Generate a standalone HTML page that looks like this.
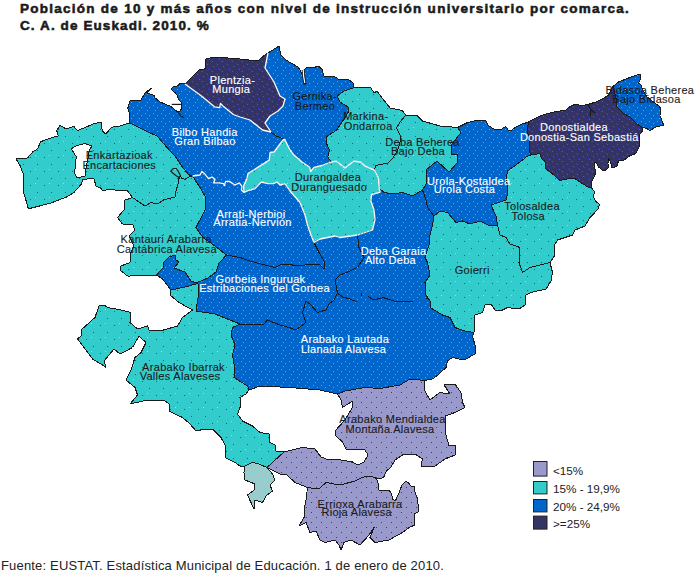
<!DOCTYPE html>
<html><head><meta charset="utf-8"><title>Mapa</title>
<style>
html,body{margin:0;padding:0;background:#fff;}
body{width:700px;height:582px;position:relative;overflow:hidden;font-family:"Liberation Sans",sans-serif;}
.t{position:absolute;left:20px;white-space:nowrap;font-weight:bold;font-size:13.5px;color:#1a1a1a;letter-spacing:1.26px;-webkit-text-stroke:0.55px #1a1a1a;line-height:14px;}
.f{position:absolute;left:1px;top:559px;white-space:nowrap;font-size:13px;color:#222;letter-spacing:0.17px;line-height:14px;}
</style></head><body>
<div class="t" style="top:1.9px">Población de 10 y más años con nivel de instrucción universitario por comarca.</div>
<div class="t" style="top:19.2px;letter-spacing:1.1px">C. A. de Euskadi. 2010. %</div>
<svg width="700" height="582" viewBox="0 0 700 582" style="position:absolute;left:0;top:0">
<defs>
<pattern id="pBL" width="8" height="8" patternUnits="userSpaceOnUse"><rect width="8" height="8" fill="#0066CC"/><rect x="1" y="1" width="1" height="1" fill="#2BBFD6"/><rect x="5" y="3" width="1" height="1" fill="#2BBFD6"/><rect x="3" y="6" width="1" height="1" fill="#2BBFD6"/></pattern>
<pattern id="pCY" width="14" height="14" patternUnits="userSpaceOnUse"><rect width="14" height="14" fill="#33CCCC"/><rect x="2" y="3" width="1" height="1" fill="#5A4A4A"/><rect x="9" y="10" width="1" height="1" fill="#5A4A4A"/><rect x="7" y="1" width="1" height="1" fill="#CCCCCC"/></pattern>
<pattern id="pNV" width="10" height="10" patternUnits="userSpaceOnUse"><rect width="10" height="10" fill="#333366"/><rect x="1" y="1" width="1" height="1" fill="#3333CC"/><rect x="2" y="1" width="1" height="1" fill="#666633"/><rect x="6" y="3" width="1" height="1" fill="#3333CC"/><rect x="7" y="4" width="1" height="1" fill="#666633"/><rect x="3" y="6" width="1" height="1" fill="#666633"/><rect x="4" y="7" width="1" height="1" fill="#3333CC"/><rect x="8" y="8" width="1" height="1" fill="#3333CC"/><rect x="9" y="9" width="1" height="1" fill="#666633"/></pattern>
<pattern id="pLV" width="10" height="10" patternUnits="userSpaceOnUse"><rect width="10" height="10" fill="#9999CC"/><rect x="1" y="2" width="1" height="1" fill="#333399"/><rect x="6" y="7" width="1" height="1" fill="#333399"/></pattern>
</defs>
<g stroke="#1a1a1a" stroke-width="1" stroke-linejoin="round" shape-rendering="crispEdges">
<path d="M16,159 27.5,158 32.6,152 37.8,148.7 40.4,141.8 49.8,138.4 58.4,135.8 56.7,130.6 60.1,125.5 66.2,128.9 73.9,126.3 77.3,130.6 85.9,127.2 93.6,123.7 101.4,122 102.2,130.6 105.7,134 111.7,127.2 120,126 129.5,123 138.9,127.4 147.5,131.7 157,136 163,142.9 169.8,150.6 175,155.8 179.3,162.6 183.6,168.6 188.7,174.7 192.5,176 187.8,177.5 185.3,179.2 181.8,178.8 180.5,175.8 179.2,177.5 178,184.4 175.8,191.3 175.8,196.9 163.8,199.9 157.5,204 151,202.5 145,206 132.5,197.5 127.5,191 115,190 110,189 103,190.8 100,187.5 96.2,186.5 94,179 89.3,178.7 82.5,179.6 81.6,183.9 73.9,192.5 67,196.8 51.5,202.8 39.5,206 28.4,208.8 23.2,190.8 23.2,173.6 19.8,165Z M71.3,148.7 75.6,146 85,143.5 91.9,146 89.3,150.4 88,158 85.9,168.4 85,176 77.3,177.9 74.7,173.6 75.6,161.5 76.5,157 73.9,153Z" fill="url(#pCY)" fill-rule="evenodd"/>
<polygon points="129.5,123 129.5,112.8 127.7,108.5 130.3,100 140.6,100.8 145,93 151.8,87.9 146.6,93 154.4,95.6 155,97.8 159.6,101.7 166.6,104.8 170.5,106.3 173.6,108.7 177.5,111.8 179.8,111 181.7,108.7 181.4,104.4 181,101.7 178.3,99.4 177.5,95.5 174.8,92.4 171.7,90 171.7,88 174,86.6 177.9,85.8 180.2,83.5 183.7,83.5 185,84 200.8,95.6 214.5,106.8 219.7,107.6 220.5,103.4 223,106 233.4,114.5 240,117 250,120 262.5,130 271,132 276,136 280,137.5 284,139 280,144 274,152 270,152.5 269.3,160 265,162.9 259.3,166.4 253.6,170 247.9,173.6 247,178.6 243.6,185.7 244,192.5 241.4,190 242,186.4 239.3,182.9 235,185 229.3,181.4 225.7,181.4 224.3,185.7 223.6,183.6 218.6,182.9 213.6,182.9 215,179.3 212,177 208.6,178.6 205,174.3 202,171.4 200,175 192.5,176 188.7,174.7 183.6,168.6 179.3,162.6 175,155.8 169.8,150.6 163,142.9 157,136 147.5,131.7 138.9,127.4" fill="url(#pBL)"/>
<polygon points="185,84 198.75,70 205,68.75 206,58.75 216,57 237.5,58.75 257.5,61 266,54 268,53 265,68 274,82 280,96 285,99 283,106 278,111 270,116 265,123 271,132 262.5,130 250,120 240,117 233.4,114.5 223,106 220.5,103.4 219.7,107.6 214.5,106.8 200.8,95.6" fill="url(#pNV)"/>
<polygon points="268,53 279,46 281,55 286,60 291,63 298,67 303,75 303,70 308,67 313,68 318,66 322,69 324,76 335,77 340,80 348,79 353,83 353,88 344,91 337,96 340,102 348,107 349,111 344,119 340,125 336.4,130.3 327,136.3 326,142.3 329.5,150 327.8,157 331.2,162 321.8,165.5 314,167.3 310.6,171.5 309.8,167.3 302,162 293.4,154.4 290,150 285,140 284,139 280,137.5 276,136 271,132 265,123 270,116 278,111 283,106 285,99 280,96 274,82 265,68" fill="url(#pBL)"/>
<polygon points="353,88 362,87 371,88 374,93 377,91 382,98 387,104 390,108 400,110 402.5,111 406,115 400,122 396.5,128 400,134.6 400,142.3 397.4,151 393,157.8 388,163 376,165.5 374.2,169.8 365.6,166.4 360.4,162 353.6,161.2 345,168 336.4,161.2 331.2,162 327.8,157 329.5,150 326,142.3 327,136.3 336.4,130.3 340,125 344,119 349,111 348,107 340,102 337,96 344,91" fill="url(#pCY)"/>
<polygon points="406,115 417.5,116 422.5,121 440,126 457.5,127.5 461,132.5 451,145 451,154 457.5,155 457.5,162.5 449,172 437,161 426,170 426,184 422.5,190 412.5,196 402.5,192.5 392.5,194 384,192.5 379,188 378.5,178.4 374.2,169.8 376,165.5 388,163 393,157.8 397.4,151 400,142.3 400,134.6 396.5,128 400,122" fill="url(#pCY)"/>
<polygon points="457.5,127.5 467.5,122.5 479,120 485.7,120.7 488.6,125.7 494.3,129.3 501.4,129.3 505.7,126.4 508.6,130.7 512,130 515.7,127 521.4,124.3 528.6,122 527,130 529.3,140 530,152.9 530.7,155 527,156.4 520,162 513,167 507.9,170.7 506.4,175.7 507,183 507.5,194 506,200 491,205 496,216 497.5,225 490,226 480,221 470,224 462.5,221 456,222.5 447.5,212.5 440,211 434,216 427.5,207.5 426,200 422.5,190 426,184 426,170 437,161 449,172 457.5,162.5 457.5,155 451,154 451,145 461,132.5" fill="url(#pBL)"/>
<polygon points="528.6,122 535.7,118 544.3,114.3 554.3,112 565.7,110 571.4,105.7 575.7,104.3 581.4,105.7 588.6,104.3 595.7,102 603,98.6 608.6,95 613,86.4 615.7,97 617,107 623,113 630,117 635.7,123 641.4,127 643,130 639,135.7 639,147 635.7,153.6 630,155.7 624,160 618.6,160.7 617,165.7 614,167.9 612,168 610,160.7 608.6,159 607.9,164 609,167 605.7,170 602,170 598.6,167 595.7,162 594,163 595.7,172.9 592,181.4 591.4,187.9 587.9,187 581.4,182.9 575,178.6 568.6,178.6 560,180.5 551.4,172.9 545.7,168.6 545,161.4 541.4,158.6 540,153.6 530.7,155 530,152.9 529.3,140 527,130" fill="url(#pNV)"/>
<polygon points="613,86.4 618.6,82 627,78.6 638.6,74.3 640.7,75 640,80 638.6,83 641,85 643,90.7 647,97 658.6,105.7 660.7,108.6 660,115.7 663.6,125 655.7,127 650,130.7 647,128.6 641.4,127 635.7,123 630,117 623,113 617,107 615.7,97" fill="url(#pBL)"/>
<polygon points="530.7,155 540,153.6 541.4,158.6 545,161.4 545.7,168.6 551.4,172.9 560,180.5 568.6,178.6 575,178.6 581.4,182.9 587.9,187 591.4,187.9 594.3,191.4 593.6,197 595.7,201.4 599.3,204.3 598.6,208.6 594.3,213 590,217.5 585,226 575,230 572.5,235 557.5,240 554,246 555,255 550,262.5 540,265 530,267.5 522.5,272.5 519,262.5 520,247.5 510,244 506,237.5 500,235 497.5,225 496,216 491,205 506,200 507.5,194 507,183 506.4,175.7 507.9,170.7 513,167 520,162 527,156.4" fill="url(#pCY)"/>
<polygon points="434,216 440,211 447.5,212.5 456,222.5 462.5,221 470,224 480,221 490,226 497.5,225 500,235 506,237.5 510,244 520,247.5 519,262.5 522.5,272.5 530,267.5 540,265 550,262.5 552.5,272.5 551,281 546,289 531,292.5 526,295 525,305 519,309 507.5,307.5 502.5,310 495,310 491,304 485,305 482.5,312.5 475,315 474,332.5 465,331 455,327.5 450,317.5 442.5,315 430,307.5 430,301 428,298 426,295 425,282.5 430,275 427.5,262.5 425,257.5 429,245 430,235 432.5,225" fill="url(#pCY)"/>
<polygon points="284,139 285,140 290,150 293.4,154.4 302,162 309.8,167.3 310.6,171.5 314,167.3 321.8,165.5 331.2,162 336.4,161.2 345,168 353.6,161.2 360.4,162 365.6,166.4 374.2,169.8 378.5,178.4 379,188 380.2,192.2 371.6,194.7 370.8,200.8 374,210 375,219.7 372.5,230 357.5,235 340,237.5 335,236 320,239 314,242.5 311,235 307.5,225 305,215 300,202.5 290,191 285,183.6 280,185 277,182 273.6,183.6 267.9,183.6 261.4,182 255,188.6 247.9,190.7 244,192.5 243.6,185.7 247,178.6 247.9,173.6 253.6,170 259.3,166.4 265,162.9 269.3,160 270,152.5 274,152 280,144" fill="url(#pCY)"/>
<polygon points="379,188 384,192.5 392.5,194 402.5,192.5 412.5,196 422.5,190 426,200 427.5,207.5 434,216 432.5,225 430,235 429,245 425,257.5 427.5,262.5 430,275 425,282.5 426,295 428,298 412.5,301 407.5,300 397.5,301 390,300 380,296 370,300 360,294 342.5,297.5 337.5,293 335,280 340,275 350,271 357.5,267.5 364,257.5 359,247.5 357.5,235 372.5,230 375,219.7 374,210 370.8,200.8 371.6,194.7 380.2,192.2" fill="url(#pBL)"/>
<polygon points="192.5,176 200,175 202,171.4 205,174.3 208.6,178.6 212,177 215,179.3 213.6,182.9 218.6,182.9 223.6,183.6 224.3,185.7 225.7,181.4 229.3,181.4 235,185 239.3,182.9 242,186.4 241.4,190 244,192.5 247.9,190.7 255,188.6 261.4,182 267.9,183.6 273.6,183.6 277,182 280,185 285,183.6 290,191 300,202.5 305,215 307.5,225 311,235 314,242.5 319,252.5 324,261 324,269 319,264 310,264 305,265 297.5,266 287.5,264 282.5,264 275,267.5 261,264 250,261 240,257.5 226.5,255 215,246 202.5,237 196,227.5 205,210 206,198 200,187.5" fill="url(#pBL)"/>
<polygon points="192.5,176 187.8,177.5 185.3,179.2 181.8,178.8 180.5,175.8 179.2,177.5 178,184.4 175.8,191.3 175.8,196.9 163.8,199.9 157.5,204 151,202.5 145,206 132.5,197.5 125,200 124,210 117.5,217.5 122.5,224 132.5,224 135,230 129,236 134,246 131,252.5 130,262.5 121,266 120,270 127.5,276 130,276 156.5,275 163,268 164,262 169,257 175,255 176,260 179,262 174,268 185,272 191,281 196,283 208,278 216,272 219,263 226.5,255 215,246 202.5,237 196,227.5 205,210 206,198 200,187.5" fill="url(#pCY)"/>
<polygon points="226.5,255 240,257.5 250,261 261,264 275,267.5 282.5,264 287.5,264 297.5,266 305,265 310,264 319,264 324,269 324,261 319,252.5 314,242.5 320,239 335,236 340,237.5 357.5,235 359,247.5 364,257.5 357.5,267.5 350,271 340,275 335,280 337.5,293 334,300 329,304 326,310 317.5,312.5 311,305 306,301 302.5,312.5 306,322.5 296,330 289,327.5 280,325 267.5,320 264,324 250,325 240,324 230,320 215,314 196,311 198,298 198,283.5 185,287 171,290 162.5,279 156.5,275 163,268 164,262 169,257 175,255 176,260 179,262 174,268 185,272 191,281 196,283 208,278 216,272 219,263" fill="url(#pBL)"/>
<polygon points="240,324 250,325 264,324 267.5,320 280,325 289,327.5 296,330 306,322.5 302.5,312.5 306,301 311,305 317.5,312.5 326,310 329,304 334,300 337.5,293 342.5,297.5 360,294 370,300 380,296 390,300 397.5,301 407.5,300 412.5,301 428,298 430,301 430,307.5 442.5,315 450,317.5 455,327.5 465,331 474,332.5 472.5,336 475,345 475,354 464,360 452.5,357.5 447.5,361 446,367.5 439,374 432.5,379 424.5,380.5 410,379 400,385 380,388.5 365,387.5 345,391 337.5,394 320,390 290,387.5 260,386 249,390 247.5,386 234,377.5 235,370 232.5,355 235,345 231,335 232.5,327.5" fill="url(#pBL)"/>
<polygon points="171,290 185,287 198,283.5 198,298 196,311 215,314 230,320 240,324 232.5,327.5 231,335 235,345 232.5,355 235,370 234,377.5 247.5,386 249,390 246,394 240,397.5 241,405 237.5,414 242.5,421 252.5,426 260,432.5 269,434 270,442.5 275,445 276,451 284,452 267,467.5 259,464 252.5,462.5 245,466 240,466 235,462.5 225,457.5 225,445 221,437.5 212.5,429 205,429 196,431 190,424 182.5,417.5 169,411 169,404 164,400 147.5,400 130,404 137.5,395 135,387.5 126,380 131,370 135,357.5 141,352.5 146,342.5 139,336 132.5,347.5 120,354 114,349 104,361 106,367.5 101,364 92.5,359 86,350 77.5,339 81,336 81,330 95,317.5 99,306 104,305 107.5,307.5 121,310 131,312.5 130,322.5 137.5,329 147.5,326 149,330 160,331 177.5,326 182.5,317.5 192.5,310 179,302.5 170,295" fill="url(#pCY)"/>
<polygon points="424.5,380.5 425,391 430,400 440,392.5 450,394 444,385 455,384 461,392.5 462.5,402.5 465,407.5 455,412.5 445,416 446,435 449,446 455,445 455,455 445,459 435,466 421,466 422.5,459 415,454 402.5,455 395,460 391,467 386.5,471 384,476.5 381.5,478.5 376.5,478.5 371,476 365,476.5 360,478.5 355,481 340,485 326,482.5 319,489 307.5,487.5 295,482.5 286,474 280,474 267,467.5 284,452 296,449 302.5,447.5 315,449 321,457 329,460 335,459 352.5,462 357.5,465 364,462 368,455 365,450 346,449 342.5,442 336,436 335,431 345,420 352.5,407.5 352.5,401 342.5,407.5 341,400 337.5,394 345,391 365,387.5 380,388.5 400,385 410,379" fill="url(#pLV)"/>
<polygon points="307.5,487.5 319,489 326,482.5 340,485 355,481 360,478.5 365,476.5 371,476 376.5,478.5 378,483 379,490 389,490 391,493 393,499.5 395.5,500.5 398.5,494 402,485 406,481 409,483.5 411,486 414.5,486.5 414.5,491 417,497 418.5,507 418,512 414.5,514 414,518 415,525 409,527.5 402.5,532.5 389,540 375,542.5 370,537.5 374,527.5 369,535 360,545 351,540 344,542.5 341,550 339,545 335,540 325,542.5 320,540 316,531 310,532.5 306,522.5 299,526 304,517.5 304,510 306,500" fill="url(#pLV)"/>
<polygon points="245,466 252.5,462.5 259,464 267,467.5 272.5,474 275,480 270,485 272.5,491 266,496 262.5,502.5 255,500 254,509 247.5,495 254,490 255,484 245,480 244,472.5" fill="#99CCCC"/>
</g>
<polyline points="342.5,297.5 360,294 370,300 380,296 390,300 397.5,301 407.5,300 412.5,301 426,298.5" fill="none" stroke="#0066CC" stroke-width="2.2"/>
<g fill="none" stroke="#1a1a33" stroke-width="1" shape-rendering="crispEdges">
<polyline points="337.5,293 343,297 350,299 357,302"/>
<polyline points="361,292.5 361,296"/>
<polyline points="368,296 373,300 383.5,297.7 393.7,301 405.8,301 412.6,301"/>
</g>
<g fill="none" stroke="#1a1a1a" stroke-width="1.2">
<polyline points="171.7,104.4 181.4,104.4"/>
<polyline points="177.5,111.8 180.6,115.7 183.7,117.6"/>
<polyline points="180.5,175.8 178.4,171.5 176.2,168.5 173.2,168.5 171,171 172.4,172.8 175.8,175.4 179.2,177.5"/>
<polyline points="588,105 591,110 595,113"/>
<polyline points="591,110 590,116"/>
</g>
<polyline points="303.2,70 303.6,76 305,84.5" fill="none" stroke="#1a1a1a" stroke-width="3" stroke-linecap="butt"/>
<polyline points="303.2,69 303.6,76 304.8,83" fill="none" stroke="#ffffff" stroke-width="1.2"/>
<g fill="none" stroke="#ffffff" stroke-width="1.3" stroke-linejoin="round">
<polyline points="185,84 200.8,95.6 214.5,106.8 219.7,107.6 220.5,103.4 223,106 233.4,114.5 240,117 250,120 262.5,130 271,132"/>
<polyline points="268,53 265,68 274,82 280,96 285,99 283,106 278,111 270,116 265,123 271,132"/>
<polyline points="284,139 280,144 274,152 270,152.5 269.3,160 265,162.9 259.3,166.4 253.6,170 247.9,173.6 247,178.6 243.6,185.7 244,192.5"/>
<polyline points="244,192.5 241.4,190 242,186.4 239.3,182.9 235,185 229.3,181.4 225.7,181.4 224.3,185.7 223.6,183.6 218.6,182.9 213.6,182.9 215,179.3 212,177 208.6,178.6 205,174.3 202,171.4 200,175 192.5,176"/>
<polyline points="331.2,162 321.8,165.5 314,167.3 310.6,171.5 309.8,167.3 302,162 293.4,154.4 290,150 285,140 284,139"/>
<polyline points="374.2,169.8 365.6,166.4 360.4,162 353.6,161.2 345,168 336.4,161.2 331.2,162"/>
<polyline points="379,188 380.2,192.2 371.6,194.7 370.8,200.8 374,210 375,219.7 372.5,230 357.5,235"/>
<polyline points="357.5,235 340,237.5 335,236 320,239 314,242.5"/>
<polyline points="314,242.5 311,235 307.5,225 305,215 300,202.5 290,191 285,183.6 280,185 277,182 273.6,183.6 267.9,183.6 261.4,182 255,188.6 247.9,190.7 244,192.5"/>
<polyline points="379,188 378.5,178.4 374.2,169.8"/>
</g>
<rect x="533.5" y="461.5" width="13.5" height="14.6" fill="#9999CC" stroke="#222" stroke-width="1"/>
<rect x="533.5" y="481.5" width="13.5" height="12.4" fill="#33CCCC" stroke="#222" stroke-width="1"/>
<rect x="533.5" y="499.5" width="13.5" height="12.4" fill="#0066CC" stroke="#222" stroke-width="1"/>
<rect x="533.5" y="516.1" width="13.5" height="13" fill="#333366" stroke="#222" stroke-width="1"/>
<g font-family="Liberation Sans, sans-serif" font-size="11px" text-anchor="middle" letter-spacing="0.3">
<text x="232.5" y="84" fill="#ffffff" stroke="#ffffff" stroke-width="0.12">Plentzia-</text>
<text x="231.25" y="93" fill="#ffffff" stroke="#ffffff" stroke-width="0.12">Mungia</text>
<text x="314.7" y="99.8" fill="#1a1a1a" stroke="#1a1a1a" stroke-width="0.1">Gernika-</text>
<text x="315" y="109.8" fill="#1a1a1a" stroke="#1a1a1a" stroke-width="0.1">Bermeo</text>
<text x="204.75" y="135.5" fill="#ffffff" stroke="#ffffff" stroke-width="0.12">Bilbo Handia</text>
<text x="205" y="145" fill="#ffffff" stroke="#ffffff" stroke-width="0.12">Gran Bilbao</text>
<text x="119.25" y="159" fill="#1a1a1a" stroke="#1a1a1a" stroke-width="0.1">Enkartazioak</text>
<text x="119.25" y="169" fill="#1a1a1a" stroke="#1a1a1a" stroke-width="0.1">Encartaciones</text>
<text x="365.75" y="120" fill="#1a1a1a" stroke="#1a1a1a" stroke-width="0.1">Markina-</text>
<text x="368.25" y="129.5" fill="#1a1a1a" stroke="#1a1a1a" stroke-width="0.1">Ondarroa</text>
<text x="422.5" y="145.5" fill="#1a1a1a" stroke="#1a1a1a" stroke-width="0.1">Deba Beherea</text>
<text x="418" y="154.5" fill="#1a1a1a" stroke="#1a1a1a" stroke-width="0.1">Bajo Deba</text>
<text x="328" y="181" fill="#1a1a1a" stroke="#1a1a1a" stroke-width="0.1">Durangaldea</text>
<text x="329.25" y="191" fill="#1a1a1a" stroke="#1a1a1a" stroke-width="0.1">Duranguesado</text>
<text x="468.75" y="185" fill="#ffffff" stroke="#ffffff" stroke-width="0.12">Urola-Kostaldea</text>
<text x="464.5" y="193" fill="#ffffff" stroke="#ffffff" stroke-width="0.12">Urola Costa</text>
<text x="574" y="131" fill="#ffffff" stroke="#ffffff" stroke-width="0.12">Donostialdea</text>
<text x="579.3" y="141.4" fill="#ffffff" stroke="#ffffff" stroke-width="0.12">Donostia-San Sebastiá</text>
<text x="649.85" y="94" fill="#1a1a1a" stroke="#1a1a1a" stroke-width="0.1">Bidasoa Beherea</text>
<text x="646.5" y="103.4" fill="#1a1a1a" stroke="#1a1a1a" stroke-width="0.1">Bajo Bidasoa</text>
<text x="532" y="210" fill="#1a1a1a" stroke="#1a1a1a" stroke-width="0.1">Tolosaldea</text>
<text x="528.25" y="220" fill="#1a1a1a" stroke="#1a1a1a" stroke-width="0.1">Tolosa</text>
<text x="251" y="217.5" fill="#ffffff" stroke="#ffffff" stroke-width="0.12">Arrati-Nerbioi</text>
<text x="252.5" y="226" fill="#ffffff" stroke="#ffffff" stroke-width="0.12">Arratia-Nervión</text>
<text x="166.25" y="242.5" fill="#1a1a1a" stroke="#1a1a1a" stroke-width="0.1">Kantauri Arabarra</text>
<text x="166.75" y="252.5" fill="#1a1a1a" stroke="#1a1a1a" stroke-width="0.1">Cantábrica Alavesa</text>
<text x="393.5" y="254.5" fill="#ffffff" stroke="#ffffff" stroke-width="0.12">Deba Garaia</text>
<text x="390.5" y="264" fill="#ffffff" stroke="#ffffff" stroke-width="0.12">Alto Deba</text>
<text x="472.25" y="274" fill="#1a1a1a" stroke="#1a1a1a" stroke-width="0.1">Goierri</text>
<text x="260.5" y="282.5" fill="#ffffff" stroke="#ffffff" stroke-width="0.12">Gorbeia Inguruak</text>
<text x="264.5" y="292" fill="#ffffff" stroke="#ffffff" stroke-width="0.12">Estribaciones del Gorbea</text>
<text x="345" y="343" fill="#ffffff" stroke="#ffffff" stroke-width="0.12">Arabako Lautada</text>
<text x="343.5" y="353" fill="#ffffff" stroke="#ffffff" stroke-width="0.12">Llanada Alavesa</text>
<text x="183.5" y="370.5" fill="#1a1a1a" stroke="#1a1a1a" stroke-width="0.1">Arabako Ibarrak</text>
<text x="180" y="380" fill="#1a1a1a" stroke="#1a1a1a" stroke-width="0.1">Valles Alaveses</text>
<text x="392.5" y="422.5" fill="#1a1a1a" stroke="#1a1a1a" stroke-width="0.1">Arabako Mendialdea</text>
<text x="390" y="432.5" fill="#1a1a1a" stroke="#1a1a1a" stroke-width="0.1">Montaña Alavesa</text>
<text x="360" y="507.5" fill="#1a1a1a" stroke="#1a1a1a" stroke-width="0.1">Errioxa Arabarra</text>
<text x="356.75" y="516" fill="#1a1a1a" stroke="#1a1a1a" stroke-width="0.1">Rioja Alavesa</text>
</g>
<g font-family="Liberation Sans, sans-serif" font-size="11.7px" fill="#222">
<text x="553" y="475">&lt;15%</text>
<text x="553" y="493">15% - 19,9%</text>
<text x="553" y="511">20% - 24,9%</text>
<text x="553" y="527.6">&gt;=25%</text>
</g>
</svg>
<div class="f">Fuente: EUSTAT. Estadística Municipal de Educación. 1 de enero de 2010.</div>
</body></html>
